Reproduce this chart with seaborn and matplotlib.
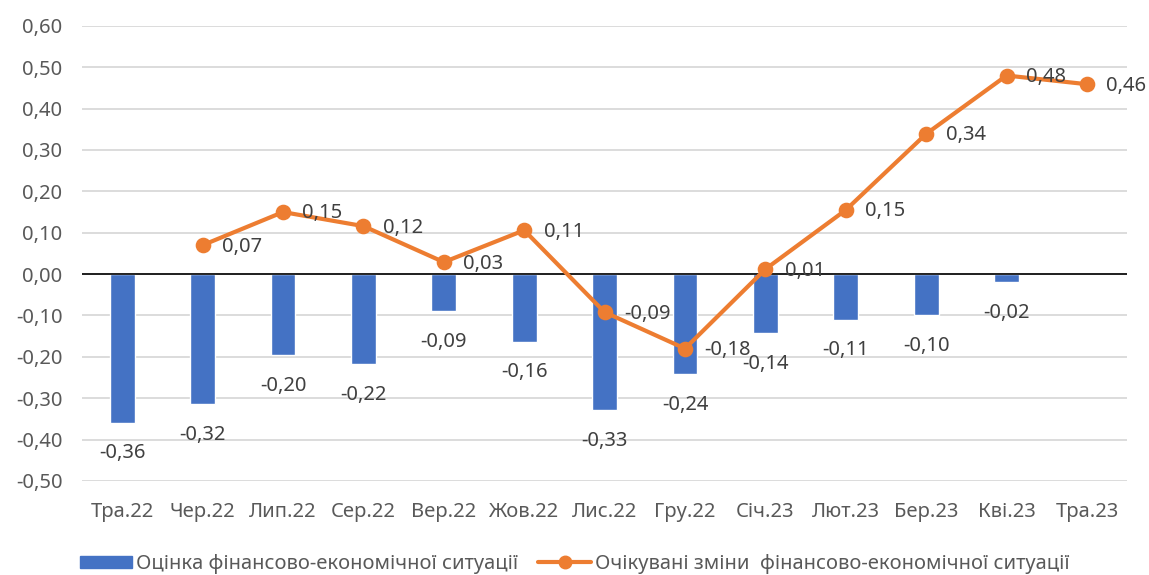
import matplotlib
matplotlib.use("Agg")
import matplotlib.pyplot as plt
import seaborn as sns
import numpy as np
from matplotlib.patches import Patch
from matplotlib.lines import Line2D

# data
months = ["Тра.22", "Чер.22", "Лип.22", "Сер.22", "Вер.22", "Жов.22", "Лис.22",
          "Гру.22", "Січ.23", "Лют.23", "Бер.23", "Кві.23", "Тра.23"]
current = [-0.359, -0.315, -0.196, -0.217, -0.089, -0.163, -0.329,
           -0.241, -0.142, -0.110, -0.100, -0.020, np.nan]
expected = [np.nan, 0.070, 0.150, 0.116, 0.029, 0.106, -0.092,
            -0.180, 0.012, 0.155, 0.339, 0.480, 0.459]
yticks = [-0.5, -0.4, -0.3, -0.2, -0.1, 0.0, 0.1, 0.2, 0.3, 0.4, 0.5, 0.6]
label_current = "Оцінка фінансово-економічної ситуації"
label_expected = "Очікувані зміни  фінансово-економічної ситуації"

blue = "#4472C4"
orange = "#ED7D31"
txt = "#595959"

sns.set_theme(style="white")
plt.rcParams['font.family'] = ['Noto Sans', 'DejaVu Sans']
fs = 14.5

def fmt(v):
    return f"{v:.2f}".replace(".", ",")

fig = plt.figure(figsize=(11.49, 5.75), dpi=100)
ax = fig.add_axes([0.0714, 0.1635, 0.9096, 0.7915])

sns.barplot(x=months, y=current, color=blue, width=0.31, saturation=1, ax=ax, zorder=2)
sns.pointplot(x=months, y=expected, color=orange, errorbar=None, markers="o",
              markersize=9, linewidth=3, ax=ax, zorder=4)

ax.set_ylim(-0.5, 0.6)
ax.set_xlim(-0.5, 12.5)
ax.set_yticks(yticks)
ax.set_yticklabels([fmt(t) for t in yticks], color=txt, fontsize=fs)
ax.set_xticks(range(len(months)))
ax.set_xticklabels(months, color=txt, fontsize=fs)
ax.tick_params(axis="y", length=0, pad=14)
ax.tick_params(axis="x", length=0, pad=15)
for s in ax.spines.values():
    s.set_visible(False)
ax.grid(axis="y", color="#D9D9D9", linewidth=1.3, zorder=0)
ax.set_axisbelow(True)
ax.axhline(0, color="black", linewidth=1.2, zorder=3)

# bar value labels (below the bar end)
for i, v in enumerate(current):
    if np.isnan(v):
        continue
    ax.annotate(fmt(v), (i, v), xytext=(0, -15), textcoords="offset points",
                ha="center", va="top", fontsize=fs, color="#404040", zorder=5)

# line value labels (right of the point)
for i, v in enumerate(expected):
    if np.isnan(v):
        continue
    ax.annotate(fmt(v), (i, v), xytext=(14, -1), textcoords="offset points",
                ha="left", va="center", fontsize=fs, color="#404040", zorder=5)

handles = [Patch(facecolor=blue, edgecolor=blue),
           Line2D([0], [0], color=orange, lw=3, marker="o", markersize=9)]
fig.legend(handles, [label_current, label_expected], loc="lower center",
           bbox_to_anchor=(0.5, -0.03), ncol=2, frameon=False, fontsize=fs,
           labelcolor=txt, handlelength=2.6, handleheight=0.6,
           handletextpad=0.2, columnspacing=1.0)

fig.savefig("out.png", dpi=100)
